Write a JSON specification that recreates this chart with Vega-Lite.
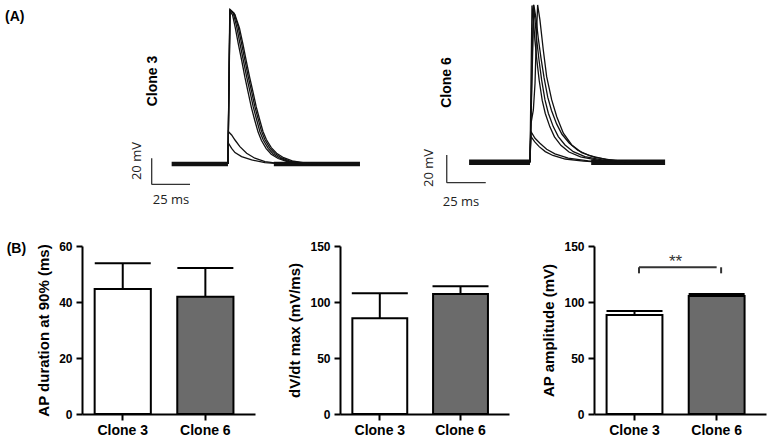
{
  "$schema": "https://vega.github.io/schema/vega-lite/v6.json",
  "padding": {"left": 5, "top": 0, "right": 0, "bottom": 0},
  "background": "white",
  "config": {
    "view": {"stroke": null},
    "font": "Liberation Sans",
    "axis": {"domainColor": "black", "domainWidth": 2, "tickColor": "black", "tickWidth": 2, "tickSize": 6, "labelColor": "black", "labelFont": "Liberation Sans", "labelFontWeight": "bold", "labelFontSize": 12, "labelPadding": 2, "titleFont": "Liberation Sans", "titleFontWeight": "bold", "titleFontSize": 15, "titleColor": "black", "grid": false},
    "axisX": {"labelFontSize": 14, "labelAngle": 0, "labelPadding": 3},
    "axisY": {"titlePadding": 7, "labelPadding": 4}
  },
  "datasets": {
    "c3": [
      {"trace": "a", "t": 0, "v": 0}, {"trace": "a", "t": 1.2, "v": 117.5}, {"trace": "a", "t": 3, "v": 114.5}, {"trace": "a", "t": 4.8, "v": 104.5}, {"trace": "a", "t": 6.8, "v": 92}, {"trace": "a", "t": 9, "v": 79.5}, {"trace": "a", "t": 11.1, "v": 66.5}, {"trace": "a", "t": 13.2, "v": 55}, {"trace": "a", "t": 15.3, "v": 43.5}, {"trace": "a", "t": 17.6, "v": 33.2}, {"trace": "a", "t": 19.7, "v": 24.5}, {"trace": "a", "t": 21.9, "v": 18}, {"trace": "a", "t": 25, "v": 11.8}, {"trace": "a", "t": 28.3, "v": 7.5}, {"trace": "a", "t": 32.8, "v": 4.2}, {"trace": "a", "t": 38.2, "v": 1.9}, {"trace": "a", "t": 47, "v": 0.4}, {"trace": "a", "t": 55, "v": 0},
      {"trace": "b", "t": 0, "v": 0}, {"trace": "b", "t": 1.3, "v": 118.4}, {"trace": "b", "t": 3.5, "v": 115.8}, {"trace": "b", "t": 5.7, "v": 105.5}, {"trace": "b", "t": 7.8, "v": 92.8}, {"trace": "b", "t": 10, "v": 79.9}, {"trace": "b", "t": 12.2, "v": 67.1}, {"trace": "b", "t": 14.4, "v": 55.6}, {"trace": "b", "t": 16.5, "v": 44}, {"trace": "b", "t": 18.8, "v": 33.8}, {"trace": "b", "t": 20.9, "v": 24.8}, {"trace": "b", "t": 23.1, "v": 18.4}, {"trace": "b", "t": 26.3, "v": 12}, {"trace": "b", "t": 29.6, "v": 7.7}, {"trace": "b", "t": 34, "v": 4.4}, {"trace": "b", "t": 39.4, "v": 2}, {"trace": "b", "t": 48.2, "v": 0.5}, {"trace": "b", "t": 56, "v": 0},
      {"trace": "c", "t": 0, "v": 0}, {"trace": "c", "t": 1.4, "v": 118.8}, {"trace": "c", "t": 4, "v": 116}, {"trace": "c", "t": 6.6, "v": 105.7}, {"trace": "c", "t": 8.8, "v": 93}, {"trace": "c", "t": 11, "v": 80.2}, {"trace": "c", "t": 13.2, "v": 67.4}, {"trace": "c", "t": 15.4, "v": 56}, {"trace": "c", "t": 17.5, "v": 44.4}, {"trace": "c", "t": 19.8, "v": 34.2}, {"trace": "c", "t": 21.9, "v": 25.2}, {"trace": "c", "t": 24.1, "v": 18.8}, {"trace": "c", "t": 27.3, "v": 12.4}, {"trace": "c", "t": 30.7, "v": 8}, {"trace": "c", "t": 35.1, "v": 4.6}, {"trace": "c", "t": 40.5, "v": 2.1}, {"trace": "c", "t": 49.4, "v": 0.6}, {"trace": "c", "t": 58, "v": 0},
      {"trace": "d", "t": 0, "v": 0}, {"trace": "d", "t": 1.3, "v": 117.8}, {"trace": "d", "t": 4.5, "v": 115}, {"trace": "d", "t": 7.5, "v": 104.5}, {"trace": "d", "t": 9.8, "v": 92}, {"trace": "d", "t": 12, "v": 79}, {"trace": "d", "t": 14.2, "v": 66.5}, {"trace": "d", "t": 16.4, "v": 55.2}, {"trace": "d", "t": 18.5, "v": 43.8}, {"trace": "d", "t": 20.8, "v": 33.8}, {"trace": "d", "t": 22.9, "v": 25}, {"trace": "d", "t": 25.1, "v": 18.8}, {"trace": "d", "t": 28.3, "v": 12.5}, {"trace": "d", "t": 31.8, "v": 8.2}, {"trace": "d", "t": 36.4, "v": 4.8}, {"trace": "d", "t": 42, "v": 2.3}, {"trace": "d", "t": 51, "v": 0.6}, {"trace": "d", "t": 60, "v": 0},
      {"trace": "s1", "t": 0, "v": 0}, {"trace": "s1", "t": 0.3, "v": 24.8}, {"trace": "s1", "t": 2.4, "v": 22.3}, {"trace": "s1", "t": 4.6, "v": 18.4}, {"trace": "s1", "t": 7.8, "v": 13.3}, {"trace": "s1", "t": 12.2, "v": 8.2}, {"trace": "s1", "t": 17.6, "v": 4.4}, {"trace": "s1", "t": 24.2, "v": 1.8}, {"trace": "s1", "t": 32.9, "v": 0.5}, {"trace": "s1", "t": 40, "v": 0},
      {"trace": "s2", "t": 0, "v": 0}, {"trace": "s2", "t": 0.3, "v": 15.9}, {"trace": "s2", "t": 2.4, "v": 12}, {"trace": "s2", "t": 4.6, "v": 8.7}, {"trace": "s2", "t": 8.9, "v": 5.6}, {"trace": "s2", "t": 15.5, "v": 3.1}, {"trace": "s2", "t": 24.2, "v": 1}, {"trace": "s2", "t": 32.9, "v": 0.2}, {"trace": "s2", "t": 40, "v": 0}
    ],
    "c3base": [
      {"seg": 1, "t": -36.8, "v": 0}, {"seg": 1, "t": 0, "v": 0},
      {"seg": 2, "t": 30, "v": 0}, {"seg": 2, "t": 86.3, "v": 0}
    ],
    "c6": [
      {"trace": "a", "t": 0, "v": 0}, {"trace": "a", "t": 1.3, "v": 120.5}, {"trace": "a", "t": 2.3, "v": 109}, {"trace": "a", "t": 3.2, "v": 94}, {"trace": "a", "t": 4.5, "v": 78.5}, {"trace": "a", "t": 6, "v": 63}, {"trace": "a", "t": 8, "v": 47.5}, {"trace": "a", "t": 10, "v": 37.5}, {"trace": "a", "t": 13, "v": 27.2}, {"trace": "a", "t": 16, "v": 19.5}, {"trace": "a", "t": 20.2, "v": 13}, {"trace": "a", "t": 25.5, "v": 7.9}, {"trace": "a", "t": 33, "v": 4.1}, {"trace": "a", "t": 44, "v": 1.6}, {"trace": "a", "t": 57, "v": 0.4}, {"trace": "a", "t": 68, "v": 0},
      {"trace": "b", "t": 0, "v": 0}, {"trace": "b", "t": 2.2, "v": 120.9}, {"trace": "b", "t": 3.3, "v": 109.4}, {"trace": "b", "t": 4.4, "v": 94}, {"trace": "b", "t": 5.9, "v": 78.6}, {"trace": "b", "t": 7.6, "v": 63.3}, {"trace": "b", "t": 9.8, "v": 47.9}, {"trace": "b", "t": 12, "v": 37.7}, {"trace": "b", "t": 15.2, "v": 27.4}, {"trace": "b", "t": 18.5, "v": 19.7}, {"trace": "b", "t": 22.9, "v": 13.3}, {"trace": "b", "t": 28.3, "v": 8.1}, {"trace": "b", "t": 35.9, "v": 4.3}, {"trace": "b", "t": 46.9, "v": 1.8}, {"trace": "b", "t": 59.9, "v": 0.5}, {"trace": "b", "t": 70, "v": 0},
      {"trace": "c", "t": 0, "v": 0}, {"trace": "c", "t": 2.5, "v": 121}, {"trace": "c", "t": 4, "v": 110}, {"trace": "c", "t": 5.4, "v": 95.5}, {"trace": "c", "t": 7.2, "v": 80}, {"trace": "c", "t": 9.2, "v": 65}, {"trace": "c", "t": 11.6, "v": 50}, {"trace": "c", "t": 14, "v": 40}, {"trace": "c", "t": 17.4, "v": 29.5}, {"trace": "c", "t": 20.9, "v": 21.5}, {"trace": "c", "t": 25.6, "v": 14.8}, {"trace": "c", "t": 31.2, "v": 9.2}, {"trace": "c", "t": 39, "v": 5}, {"trace": "c", "t": 50, "v": 2.1}, {"trace": "c", "t": 63, "v": 0.6}, {"trace": "c", "t": 72, "v": 0},
      {"trace": "d", "t": 0, "v": 0}, {"trace": "d", "t": 0.7, "v": 30}, {"trace": "d", "t": 2.2, "v": 40.2}, {"trace": "d", "t": 3.3, "v": 60.7}, {"trace": "d", "t": 4.1, "v": 94}, {"trace": "d", "t": 5, "v": 120.9}, {"trace": "d", "t": 6.5, "v": 109.4}, {"trace": "d", "t": 8.7, "v": 86.3}, {"trace": "d", "t": 10.9, "v": 65.8}, {"trace": "d", "t": 14.2, "v": 47.9}, {"trace": "d", "t": 17.5, "v": 35}, {"trace": "d", "t": 21.8, "v": 22.3}, {"trace": "d", "t": 27.3, "v": 13.3}, {"trace": "d", "t": 33.8, "v": 7.4}, {"trace": "d", "t": 42.5, "v": 3.8}, {"trace": "d", "t": 55.6, "v": 1.2}, {"trace": "d", "t": 68.6, "v": 0},
      {"trace": "s1", "t": 0, "v": 0}, {"trace": "s1", "t": 0.7, "v": 23.5}, {"trace": "s1", "t": 3.3, "v": 18.4}, {"trace": "s1", "t": 6.5, "v": 14.6}, {"trace": "s1", "t": 10.9, "v": 10}, {"trace": "s1", "t": 16.3, "v": 6.4}, {"trace": "s1", "t": 25, "v": 3.1}, {"trace": "s1", "t": 38.1, "v": 1}, {"trace": "s1", "t": 51.2, "v": 0},
      {"trace": "s2", "t": 0, "v": 0}, {"trace": "s2", "t": 0.5, "v": 20}, {"trace": "s2", "t": 3, "v": 15.8}, {"trace": "s2", "t": 6, "v": 12}, {"trace": "s2", "t": 10, "v": 8.2}, {"trace": "s2", "t": 15, "v": 5.2}, {"trace": "s2", "t": 23, "v": 2.5}, {"trace": "s2", "t": 35, "v": 0.8}, {"trace": "s2", "t": 48, "v": 0}
    ],
    "c6base": [
      {"seg": 1, "t": -39.8, "v": 0}, {"seg": 1, "t": 0, "v": 0},
      {"seg": 2, "t": 40, "v": 0}, {"seg": 2, "t": 88.3, "v": 0}
    ],
    "scalebars": [
      {"panel": "A1", "t": -49.85, "t2": -49.85, "v": 4.3, "v2": -15.7},
      {"panel": "A1", "t": -49.85, "t2": -24.8, "v": -15.7, "v2": -15.7},
      {"panel": "A2", "t": -54.4, "t2": -54.4, "v": 5.5, "v2": -15.7},
      {"panel": "A2", "t": -54.4, "t2": -28.9, "v": -15.7, "v2": -15.7}
    ],
    "labels": [
      {"panel": "A1", "kind": "tag", "t": -145.7, "v": 112.9, "label": "(A)"},
      {"panel": "A1", "kind": "name", "t": -49.3, "v": 63.7, "label": "Clone 3"},
      {"panel": "A1", "kind": "vbar", "t": -59.3, "v": 2.2, "label": "20 mV"},
      {"panel": "A1", "kind": "hbar", "t": -37.2, "v": -27.7, "label": "25 ms"},
      {"panel": "A2", "kind": "name", "t": -54, "v": 61.3, "label": "Clone 6"},
      {"panel": "A2", "kind": "vbar", "t": -66, "v": -4.4, "label": "20 mV"},
      {"panel": "A2", "kind": "hbar", "t": -45.1, "v": -30.3, "label": "25 ms"}
    ],
    "b1": [
      {"clone": "Clone 3", "mean": 44.6, "upper": 53.8},
      {"clone": "Clone 6", "mean": 41.9, "upper": 52.1}
    ],
    "b2": [
      {"clone": "Clone 3", "mean": 85.4, "upper": 107.8},
      {"clone": "Clone 6", "mean": 107.1, "upper": 114}
    ],
    "b3": [
      {"clone": "Clone 3", "mean": 88.4, "upper": 92},
      {"clone": "Clone 6", "mean": 105.4, "upper": 107.1}
    ],
    "sigends": [
      {"clone": "Clone 3", "lo": 125.6, "hi": 131},
      {"clone": "Clone 6", "lo": 125.6, "hi": 131}
    ],
    "sigbar": [
      {"from": "Clone 3", "to": "Clone 6", "y": 131, "ystar": 136, "label": "**"}
    ]
  },
  "spacing": 24,
  "vconcat": [
    {
      "hconcat": [
        {
          "width": 302, "height": 216,
          "layer": [
            {"data": {"name": "c3base"}, "mark": {"type": "line", "stroke": "#111", "strokeWidth": 4.5},
             "encoding": {"x": {"field": "t", "type": "quantitative", "scale": {"domain": [-95.4, 102], "nice": false, "zero": false}, "axis": null},
                          "y": {"field": "v", "type": "quantitative", "scale": {"domain": [-40, 126], "nice": false, "zero": false}, "axis": null},
                          "detail": {"field": "seg"}}},
            {"data": {"name": "c3"}, "mark": {"type": "line", "stroke": "#111", "strokeWidth": 1.3},
             "encoding": {"x": {"field": "t", "type": "quantitative"}, "y": {"field": "v", "type": "quantitative"}, "detail": {"field": "trace"}}},
            {"data": {"name": "scalebars"}, "transform": [{"filter": "datum.panel == 'A1'"}], "mark": {"type": "rule", "stroke": "#333", "strokeWidth": 1.3},
             "encoding": {"x": {"field": "t", "type": "quantitative"}, "x2": {"field": "t2"}, "y": {"field": "v", "type": "quantitative"}, "y2": {"field": "v2"}}},
            {"data": {"name": "labels"}, "transform": [{"filter": "datum.panel == 'A1' && datum.kind == 'tag'"}], "mark": {"type": "text", "align": "left", "baseline": "middle", "fontWeight": "bold", "fontSize": 14, "font": "Liberation Sans", "color": "black"},
             "encoding": {"x": {"field": "t", "type": "quantitative"}, "y": {"field": "v", "type": "quantitative"}, "text": {"field": "label"}}},
            {"data": {"name": "labels"}, "transform": [{"filter": "datum.panel == 'A1' && datum.kind == 'name'"}], "mark": {"type": "text", "align": "center", "baseline": "middle", "angle": 270, "fontWeight": "bold", "fontSize": 14, "font": "Liberation Sans", "color": "black"},
             "encoding": {"x": {"field": "t", "type": "quantitative"}, "y": {"field": "v", "type": "quantitative"}, "text": {"field": "label"}}},
            {"data": {"name": "labels"}, "transform": [{"filter": "datum.panel == 'A1' && datum.kind == 'vbar'"}], "mark": {"type": "text", "align": "center", "baseline": "middle", "angle": 270, "fontSize": 13, "font": "Open Sans", "color": "#222"},
             "encoding": {"x": {"field": "t", "type": "quantitative"}, "y": {"field": "v", "type": "quantitative"}, "text": {"field": "label"}}},
            {"data": {"name": "labels"}, "transform": [{"filter": "datum.panel == 'A1' && datum.kind == 'hbar'"}], "mark": {"type": "text", "align": "center", "baseline": "middle", "fontSize": 13, "font": "Open Sans", "color": "#222"},
             "encoding": {"x": {"field": "t", "type": "quantitative"}, "y": {"field": "v", "type": "quantitative"}, "text": {"field": "label"}}}
          ]
        },
        {
          "width": 385, "height": 216,
          "layer": [
            {"data": {"name": "c6base"}, "mark": {"type": "line", "stroke": "#111", "strokeWidth": 5.5},
             "encoding": {"x": {"field": "t", "type": "quantitative", "scale": {"domain": [-95.4, 156.2], "nice": false, "zero": false}, "axis": null},
                          "y": {"field": "v", "type": "quantitative", "scale": {"domain": [-41.3, 124.7], "nice": false, "zero": false}, "axis": null},
                          "detail": {"field": "seg"}}},
            {"data": {"name": "c6"}, "mark": {"type": "line", "stroke": "#111", "strokeWidth": 1.3},
             "encoding": {"x": {"field": "t", "type": "quantitative"}, "y": {"field": "v", "type": "quantitative"}, "detail": {"field": "trace"}}},
            {"data": {"name": "scalebars"}, "transform": [{"filter": "datum.panel == 'A2'"}], "mark": {"type": "rule", "stroke": "#333", "strokeWidth": 1.3},
             "encoding": {"x": {"field": "t", "type": "quantitative"}, "x2": {"field": "t2"}, "y": {"field": "v", "type": "quantitative"}, "y2": {"field": "v2"}}},
            {"data": {"name": "labels"}, "transform": [{"filter": "datum.panel == 'A2' && datum.kind == 'name'"}], "mark": {"type": "text", "align": "center", "baseline": "middle", "angle": 270, "fontWeight": "bold", "fontSize": 14, "font": "Liberation Sans", "color": "black"},
             "encoding": {"x": {"field": "t", "type": "quantitative"}, "y": {"field": "v", "type": "quantitative"}, "text": {"field": "label"}}},
            {"data": {"name": "labels"}, "transform": [{"filter": "datum.panel == 'A2' && datum.kind == 'vbar'"}], "mark": {"type": "text", "align": "center", "baseline": "middle", "angle": 270, "fontSize": 13, "font": "Open Sans", "color": "#222"},
             "encoding": {"x": {"field": "t", "type": "quantitative"}, "y": {"field": "v", "type": "quantitative"}, "text": {"field": "label"}}},
            {"data": {"name": "labels"}, "transform": [{"filter": "datum.panel == 'A2' && datum.kind == 'hbar'"}], "mark": {"type": "text", "align": "center", "baseline": "middle", "fontSize": 13, "font": "Open Sans", "color": "#222"},
             "encoding": {"x": {"field": "t", "type": "quantitative"}, "y": {"field": "v", "type": "quantitative"}, "text": {"field": "label"}}}
          ]
        }
      ],
      "spacing": 0,
      "bounds": "flush",
      "resolve": {"scale": {"x": "independent", "y": "independent"}}
    },
    {
      "hconcat": [
        {
          "width": 173, "height": 168,
          "title": {"text": "(B)", "anchor": "start", "frame": "bounds", "orient": "top", "fontSize": 14, "fontWeight": "bold", "font": "Liberation Sans", "color": "black", "dx": -30, "dy": 16, "offset": 0},
          "data": {"name": "b1"},
          "layer": [
            {"mark": {"type": "bar", "stroke": "black", "strokeWidth": 2},
             "encoding": {"x": {"field": "clone", "type": "nominal", "scale": {"domain": ["Clone 3", "Clone 6"], "paddingInner": 0.32, "paddingOuter": 0.207, "align": 0.37}, "axis": {"title": null}},
                          "y": {"field": "mean", "type": "quantitative", "scale": {"domain": [0, 60], "nice": false}, "axis": {"values": [0, 20, 40, 60], "title": "AP duration at 90% (ms)"}},
                          "fill": {"field": "clone", "type": "nominal", "scale": {"domain": ["Clone 3", "Clone 6"], "range": ["#ffffff", "#6b6b6b"]}, "legend": null}}},
            {"mark": {"type": "rule", "stroke": "black", "strokeWidth": 2},
             "encoding": {"x": {"field": "clone", "type": "nominal"}, "y": {"field": "mean", "type": "quantitative"}, "y2": {"field": "upper"}}},
            {"mark": {"type": "tick", "color": "black", "opacity": 1, "thickness": 2, "size": 56},
             "encoding": {"x": {"field": "clone", "type": "nominal"}, "y": {"field": "upper", "type": "quantitative"}}}
          ]
        },
        {
          "width": 169, "height": 168,
          "data": {"name": "b2"},
          "layer": [
            {"mark": {"type": "bar", "stroke": "black", "strokeWidth": 2},
             "encoding": {"x": {"field": "clone", "type": "nominal", "scale": {"domain": ["Clone 3", "Clone 6"], "paddingInner": 0.32, "paddingOuter": 0.207, "align": 0.37}, "axis": {"title": null}},
                          "y": {"field": "mean", "type": "quantitative", "scale": {"domain": [0, 150], "nice": false}, "axis": {"values": [0, 50, 100, 150], "title": "dV/dt max (mV/ms)"}},
                          "fill": {"field": "clone", "type": "nominal", "scale": {"domain": ["Clone 3", "Clone 6"], "range": ["#ffffff", "#6b6b6b"]}, "legend": null}}},
            {"mark": {"type": "rule", "stroke": "black", "strokeWidth": 2},
             "encoding": {"x": {"field": "clone", "type": "nominal"}, "y": {"field": "mean", "type": "quantitative"}, "y2": {"field": "upper"}}},
            {"mark": {"type": "tick", "color": "black", "opacity": 1, "thickness": 2, "size": 56},
             "encoding": {"x": {"field": "clone", "type": "nominal"}, "y": {"field": "upper", "type": "quantitative"}}}
          ]
        },
        {
          "width": 172, "height": 168,
          "layer": [
            {"data": {"name": "b3"}, "mark": {"type": "bar", "stroke": "black", "strokeWidth": 2},
             "encoding": {"x": {"field": "clone", "type": "nominal", "scale": {"domain": ["Clone 3", "Clone 6"], "paddingInner": 0.32, "paddingOuter": 0.207, "align": 0.37}, "axis": {"title": null}},
                          "y": {"field": "mean", "type": "quantitative", "scale": {"domain": [0, 150], "nice": false}, "axis": {"values": [0, 50, 100, 150], "title": "AP amplitude (mV)"}},
                          "fill": {"field": "clone", "type": "nominal", "scale": {"domain": ["Clone 3", "Clone 6"], "range": ["#ffffff", "#6b6b6b"]}, "legend": null}}},
            {"data": {"name": "b3"}, "mark": {"type": "rule", "stroke": "black", "strokeWidth": 2},
             "encoding": {"x": {"field": "clone", "type": "nominal"}, "y": {"field": "mean", "type": "quantitative"}, "y2": {"field": "upper"}}},
            {"data": {"name": "b3"}, "mark": {"type": "tick", "color": "black", "opacity": 1, "thickness": 2, "size": 56},
             "encoding": {"x": {"field": "clone", "type": "nominal"}, "y": {"field": "upper", "type": "quantitative"}}},
            {"data": {"name": "sigends"}, "mark": {"type": "rule", "stroke": "#333", "strokeWidth": 2},
             "encoding": {"x": {"field": "clone", "type": "nominal", "bandPosition": 0.58}, "y": {"field": "lo", "type": "quantitative"}, "y2": {"field": "hi"}}},
            {"data": {"name": "sigbar"}, "mark": {"type": "rule", "stroke": "#333", "strokeWidth": 2},
             "encoding": {"x": {"field": "from", "type": "nominal", "bandPosition": 0.58}, "x2": {"field": "to"}, "y": {"field": "y", "type": "quantitative"}}},
            {"data": {"name": "sigbar"}, "mark": {"type": "text", "fontSize": 17, "font": "Liberation Sans", "color": "#333", "baseline": "middle", "align": "center"},
             "encoding": {"x": {"field": "from", "type": "nominal", "bandPosition": 1.235}, "y": {"field": "ystar", "type": "quantitative"}, "text": {"field": "label"}}}
          ]
        }
      ],
      "spacing": 85,
      "bounds": "flush",
      "resolve": {"scale": {"x": "independent", "y": "independent", "fill": "independent"}}
    }
  ]
}
